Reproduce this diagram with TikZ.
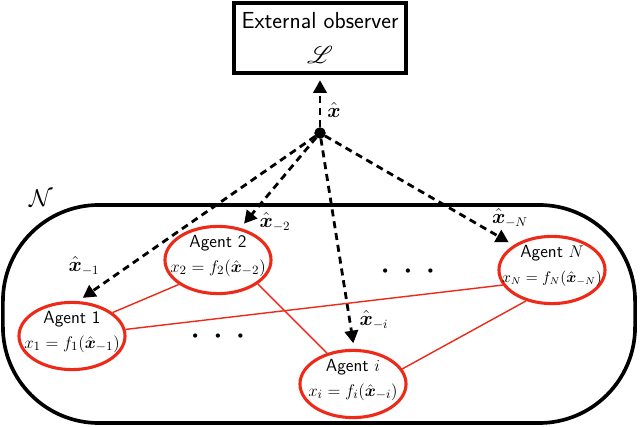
\documentclass[tikz,border=0pt]{standalone}
\usepackage{amsmath,amssymb,mathrsfs}
\usepackage{tikz}
\usetikzlibrary{shapes,arrows,arrows.meta,positioning,calc}
\definecolor{agentred}{rgb}{0.93,0.16,0.09}
\tikzstyle{observer} = [rectangle, draw, line width=2.3pt, minimum width=4.3cm, minimum height=1.75cm, align=center, font=\sffamily\fontsize{16.5}{20}\selectfont]
\tikzstyle{network} = [rectangle, draw, line width=2.6pt, rounded corners=2.4cm, minimum width=15.8cm, minimum height=5.45cm]
\tikzstyle{agent} = [ellipse, draw=agentred, line width=2.2pt, minimum width=2.65cm, minimum height=1.68cm, inner sep=-12pt, text depth=9pt, align=center, font=\sffamily\fontsize{12.5}{15}\selectfont]
\tikzstyle{junction} = [draw, circle, fill=black, inner sep=0pt, minimum size=0.27cm]
\tikzstyle{link} = [agentred, line width=1pt]
\tikzstyle{signal} = [-{Triangle[length=9pt,width=9.5pt]}, dashed, line width=2pt, dash pattern=on 5pt off 3.5pt, shorten >=4pt]
\tikzstyle{dots} = [font=\scriptsize]
\tikzstyle{estimate} = [font=\fontsize{13.5}{16}\selectfont]
\newcommand{\xhat}{\hat{\boldsymbol{x}}}

\begin{document}
\begin{tikzpicture}[x=0.025cm, y=0.025cm]
    \useasboundingbox (0,0) rectangle (640,427);
    \node[observer] (observer) at (320,389) {External observer\\[5pt]$\mathscr{L}$};
    \node[network] (network) at (319,113) {};
    \node[junction] (junction) at (320,294) {};

    \node[agent] (agent1) at (72,91) {Agent 1\\[3pt]$x_1 = f_1(\xhat_{-1})$};
    \node[agent] (agent2) at (218,167) {Agent 2\\[3pt]$x_2 = f_2(\xhat_{-2})$};
    \node[agent] (agenti) at (353,43) {Agent $i$\\[3pt]$x_i = f_i(\xhat_{-i})$};
    \node[agent] (agentN) at (552,157) {Agent $N$\\[3pt]{\fontsize{10.5}{13}\selectfont$x_N = f_N(\xhat_{-N})$}};

    \node[font=\LARGE] (setN) at (41,229) {$\mathcal{N}$};
    \node[dots] (dots1) at (218,91) {$\bullet$\hspace{12pt}$\bullet$\hspace{12pt}$\bullet$};
    \node[dots] (dots2) at (408,156) {$\bullet$\hspace{12pt}$\bullet$\hspace{12pt}$\bullet$};

    \draw[signal] (junction) -- (observer.south);
    \draw[signal] (junction) -- (agent1.80);
    \draw[signal] (junction) -- (agent2.55);
    \draw[signal] (junction) -- (agenti.88);
    \draw[signal] (junction) -- (agentN.147);

    \draw[link] (agent1.30) -- (agent2.212);
    \draw[link] (agent1.7) -- (agentN.197);
    \draw[link] (agent2.-31) -- (agenti.130);
    \draw[link] (agenti.17) -- (agentN.230);

    \node[estimate] (labelx) at (334,317) {$\xhat$};
    \node[estimate] (label1) at (84,161) {$\xhat_{-1}$};
    \node[estimate] (label2) at (275,205) {$\xhat_{-2}$};
    \node[estimate] (labeli) at (374,107) {$\xhat_{-i}$};
    \node[estimate] (labelN) at (510,209) {$\xhat_{-N}$};
\end{tikzpicture}
\end{document}
